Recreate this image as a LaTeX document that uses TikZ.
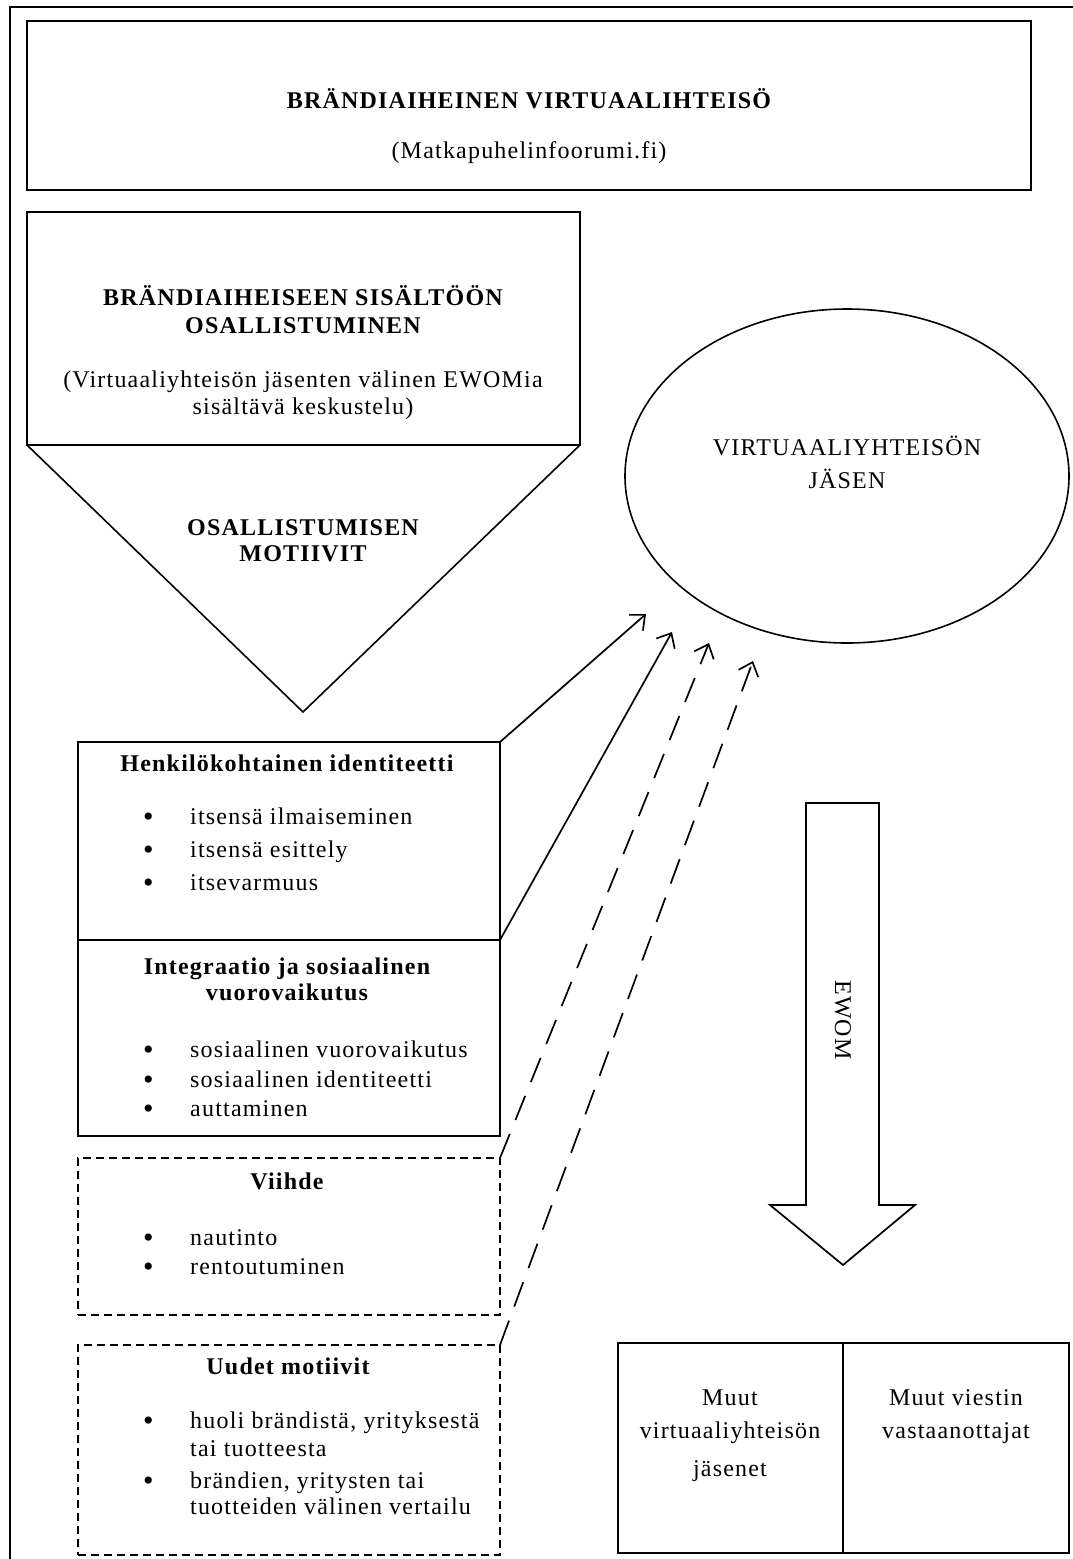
\documentclass[tikz,border=0pt]{standalone}
\usepackage{fontspec}
\setmainfont{Liberation Serif}[LetterSpace=5]
\usetikzlibrary{shapes.geometric,arrows.meta}
\newcommand{\bul}{\makebox[47pt][l]{\smash{\raisebox{-2.5pt}{\fontsize{30}{30}\selectfont\textbullet}}}}
\begin{document}
\begin{tikzpicture}[x=1pt,y=-1pt,
  box/.style={draw, line width=1.9pt, rectangle, inner sep=0pt, outer sep=0pt, anchor=north west},
  dbox/.style={box, dash pattern=on 8pt off 5pt, line width=1.7pt},
  txt/.style={anchor=base, inner sep=0pt, font=\fontsize{24}{28}\selectfont},
  btxt/.style={anchor=base, inner sep=0pt, font=\fontsize{24}{28}\selectfont\bfseries},
  ltxt/.style={anchor=base west, inner sep=0pt, font=\fontsize{24}{28}\selectfont},
  conn/.style={line width=1.7pt, -{Straight Barb[length=12pt,width=21pt,line width=1.7pt]}},
  dconn/.style={conn, dash pattern=on 26pt off 15pt}]
\useasboundingbox (0,0) rectangle (1073,1559);
% outer frame (cropped at right and bottom)
\draw[line width=2.4pt] (10,1559) -- (10,7) -- (1073,7);

% top box
\node[box, minimum width=1004pt, minimum height=169pt] (top) at (27,21) {};
\node[btxt] (toptitle) at (529,108) {BRÄNDIAIHEINEN VIRTUAALIHTEISÖ};
\node[txt] (topsub) at (529,158) {(Matkapuhelinfoorumi.fi)};

% pentagon
\node[box, minimum width=553pt, minimum height=233pt] (pbox) at (27,212) {};
\coordinate (ptip) at (303,712);
\draw[line width=1.6pt] (pbox.south west) -- (ptip) -- (pbox.south east);
\node[btxt] (p1) at (303,305) {BRÄNDIAIHEISEEN SISÄLTÖÖN};
\node[btxt] (p2) at (303,333) {OSALLISTUMINEN};
\node[txt] (p3) at (303,387) {(Virtuaaliyhteisön jäsenten välinen EWOMia};
\node[txt] (p4) at (303,414) {sisältävä keskustelu)};
\node[btxt] (m1) at (303,535) {OSALLISTUMISEN};
\node[btxt] (m2) at (303,561) {MOTIIVIT};

% ellipse
\node[draw, ellipse, line width=1.6pt, minimum width=444pt, minimum height=334pt, inner sep=0pt] (member) at (847,476) {};
\node[txt] (e1) at (847,455) {VIRTUAALIYHTEISÖN};
\node[txt] (e2) at (847,488) {JÄSEN};

% motive boxes
\node[box, minimum width=422pt, minimum height=198pt] (henk) at (78,742) {};
\node[box, minimum width=422pt, minimum height=196pt] (integ) at (78,940) {};
\node[dbox, minimum width=422pt, minimum height=157pt] (viihde) at (78,1158) {};
\node[dbox, minimum width=422pt, minimum height=210pt] (uudet) at (78,1345) {};

\node[btxt] (ht) at (287,771) {Henkilökohtainen identiteetti};
\node[ltxt] (h1) at (143,824) {\bul itsensä ilmaiseminen};
\node[ltxt] (h2) at (143,857) {\bul itsensä esittely};
\node[ltxt] (h3) at (143,890) {\bul itsevarmuus};

\node[btxt] (it1) at (287,974) {Integraatio ja sosiaalinen};
\node[btxt] (it2) at (287,1000) {vuorovaikutus};
\node[ltxt] (i1) at (143,1057) {\bul sosiaalinen vuorovaikutus};
\node[ltxt] (i2) at (143,1087) {\bul sosiaalinen identiteetti};
\node[ltxt] (i3) at (143,1116) {\bul auttaminen};

\node[btxt] (vt) at (287,1189) {Viihde};
\node[ltxt] (v1) at (143,1245) {\bul nautinto};
\node[ltxt] (v2) at (143,1274) {\bul rentoutuminen};

\node[btxt] (ut) at (288,1374) {Uudet motiivit};
\node[ltxt] (u1) at (143,1428) {\bul huoli brändistä, yrityksestä};
\node[ltxt] (u1b) at (190,1456) {tai tuotteesta};
\node[ltxt] (u2) at (143,1488) {\bul brändien, yritysten tai};
\node[ltxt] (u2b) at (190,1514) {tuotteiden välinen vertailu};

% connectors to the member
\coordinate (t1) at (646,614);
\coordinate (t2) at (672,632);
\coordinate (t3) at (709,643);
\coordinate (t4) at (753,661);
\draw[conn] (henk.north east) -- (t1);
\draw[conn] (henk.south east) -- (t2);
\draw[dconn] (viihde.north east) -- (t3);
\draw[dconn] (uudet.north east) -- (t4);

% EWOM block arrow
\draw[line width=1.7pt, line join=miter] (806,803) -- (879,803) -- (879,1205) -- (915,1205) -- (843,1265) -- (770,1205) -- (806,1205) -- cycle;
\node[txt, anchor=center, rotate=-90] (ewom) at (843,1020) {EWOM};

% receivers
\node[box, minimum width=225pt, minimum height=210pt] (muut1) at (618,1343) {};
\node[box, minimum width=226pt, minimum height=210pt] (muut2) at (843,1343) {};
\node[txt] (r1) at (730,1405) {Muut};
\node[txt] (r2) at (730,1438) {virtuaaliyhteisön};
\node[txt] (r3) at (730,1476) {jäsenet};
\node[txt] (s1) at (956,1405) {Muut viestin};
\node[txt] (s2) at (956,1438) {vastaanottajat};
\end{tikzpicture}
\end{document}
